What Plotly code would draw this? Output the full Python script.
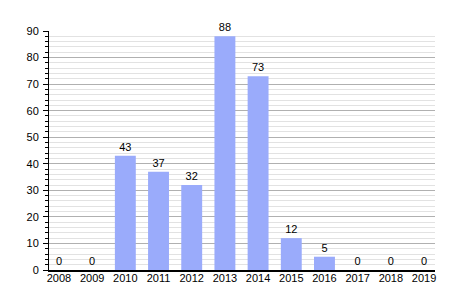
import plotly.graph_objects as go

years = ["2008","2009","2010","2011","2012","2013","2014","2015","2016","2017","2018","2019"]
counts = [0,0,43,37,32,88,73,12,5,0,0,0]

fig = go.Figure(go.Bar(
    x=list(range(len(years))), y=counts, text=[str(c) for c in counts], textposition="outside",
    marker=dict(color="#9aabfb", line=dict(width=0)),
    textfont=dict(family="Liberation Sans, Arial", size=11, color="black"),
    cliponaxis=False, width=0.63,
))
fig.update_layout(
    width=464, height=300, margin=dict(l=49, r=29, t=31, b=30),
    paper_bgcolor="white", plot_bgcolor="white",
    font=dict(family="Liberation Sans, Arial", size=11, color="black"),
    showlegend=False,
)
fig.update_yaxes(
    range=[0, 90], tick0=0, dtick=10, showline=True, linecolor="black", linewidth=1,
    ticks="outside", ticklen=5, tickcolor="black", gridcolor="#b0b0b0", gridwidth=1,
    minor=dict(dtick=2, showgrid=True, gridcolor="#e2e2e2", ticks="outside", ticklen=3, tickcolor="black"),
    zeroline=False, ticklabelstandoff=2,
)
fig.update_xaxes(
    range=[-0.3, 11.33], tickmode="array", tickvals=list(range(len(years))), ticktext=years,
    showline=True, linecolor="black", linewidth=1.5, ticks="", showgrid=False, zeroline=False,
    tickfont=dict(size=11), ticklabelstandoff=-3,
)
fig.write_html("out.html")
